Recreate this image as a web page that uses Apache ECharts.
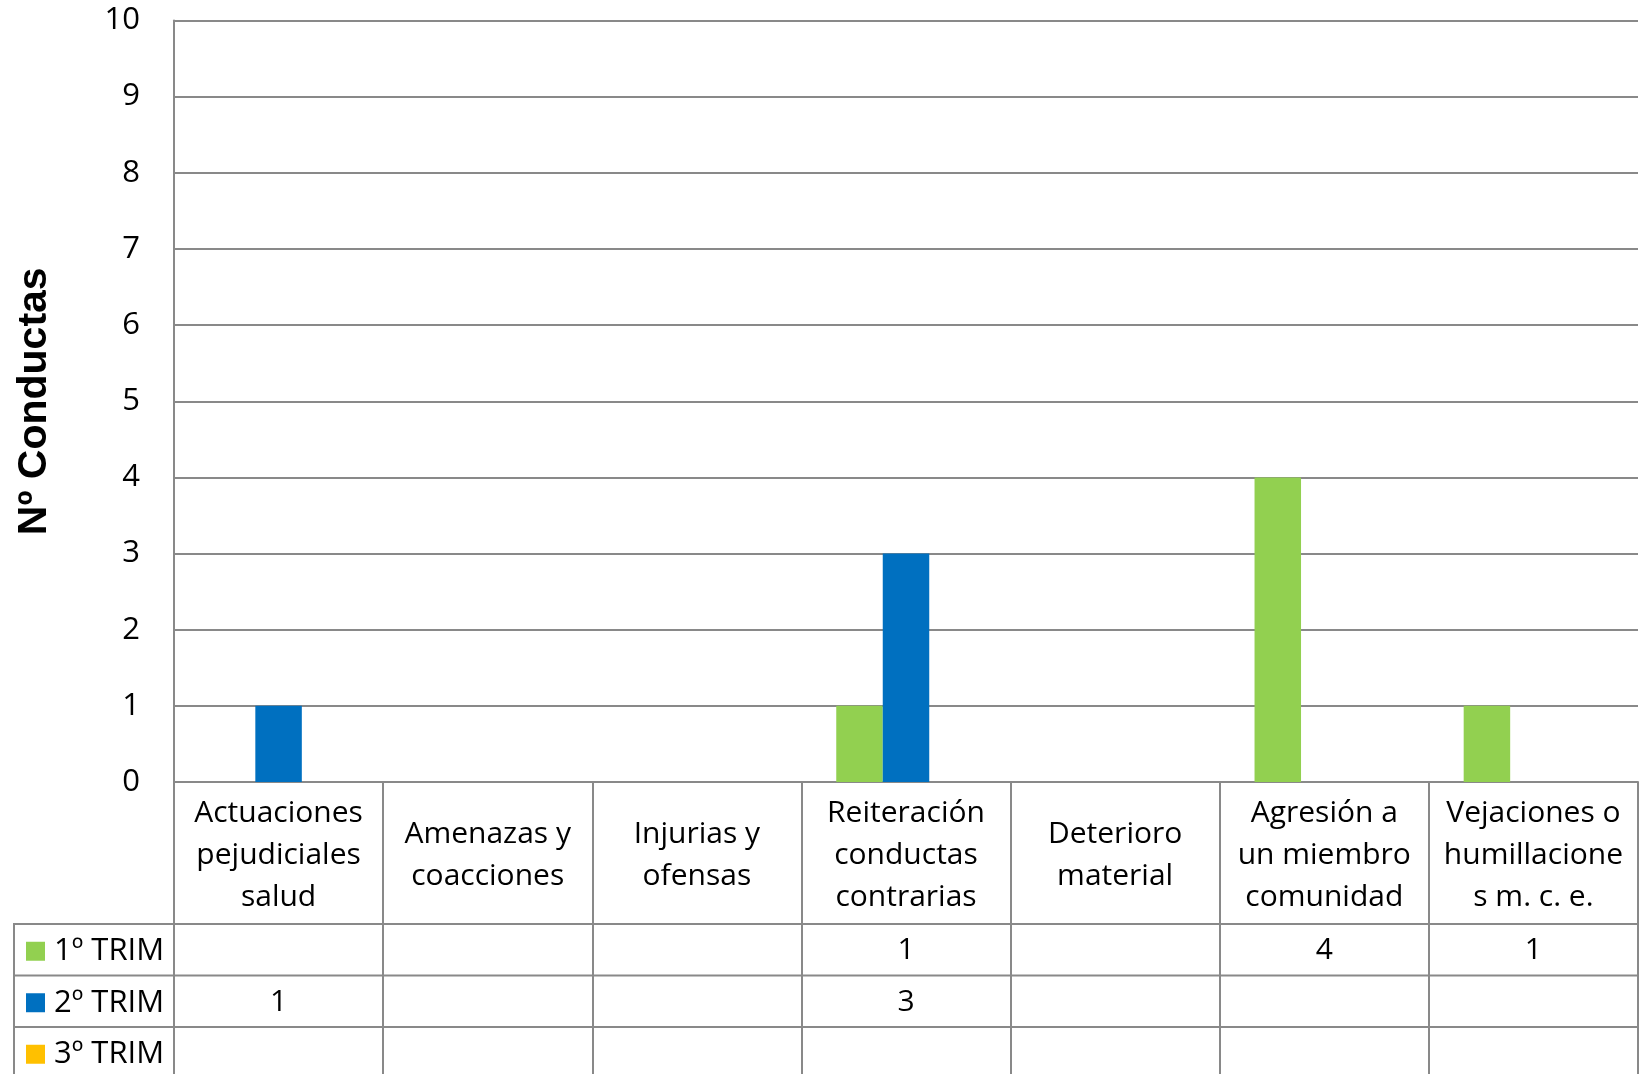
<!DOCTYPE html>
<html>
<head>
<meta charset="utf-8">
<script src="https://cdn.jsdelivr.net/npm/echarts@6/dist/echarts.min.js"></script>
<style>
html,body{margin:0;padding:0;background:#fff;}
#chart{width:1647px;height:1074px;}
</style>
</head>
<body>
<div id="chart"></div>
<script>
// ---- data ----
const categories = [
  "Actuaciones\npejudiciales\nsalud",
  "Amenazas y\ncoacciones",
  "Injurias y\nofensas",
  "Reiteración\nconductas\ncontrarias",
  "Deterioro\nmaterial",
  "Agresión a\nun miembro\ncomunidad",
  "Vejaciones o\nhumillacione\ns m. c. e."
];
const seriesNames = ["1º TRIM", "2º TRIM", "3º TRIM"];
const trim1 = [null, null, null, 1, null, 4, 1];
const trim2 = [1, null, null, 3, null, null, null];
const trim3 = [null, null, null, null, null, null, null];
const yTicks = [0, 1, 2, 3, 4, 5, 6, 7, 8, 9, 10];
const yTitle = "Nº Conductas";

// ---- layout / style ----
const colors = ["#92D050", "#0070C0", "#FFC000"];
const gridColor = "#898989";
const font = "'Open Sans', sans-serif";
const W = 1647, H = 1074;
const gLeft = 174, gRight = 1638, gTop = 20.5, gBottom = 782;
const catRowBottom = 924, rowH = 51.5, legendLeft = 14;

const allSeries = [trim1, trim2, trim3];

const chart = echarts.init(document.getElementById('chart'), null, {renderer: 'canvas'});

const xAxes = [{
  type: 'category',
  data: categories,
  gridIndex: 0,
  position: 'bottom',
  boundaryGap: true,
  axisLine: {show: true, lineStyle: {color: gridColor, width: 2}},
  axisTick: {show: true, interval: 0, alignWithLabel: false, length: H - gBottom, lineStyle: {color: gridColor, width: 2}},
  axisLabel: {
    interval: 0, fontFamily: font, fontSize: 30, color: '#000', lineHeight: 42,
    verticalAlign: 'middle', align: 'center', margin: (gBottom + catRowBottom) / 2 - gBottom + 2
  },
  splitLine: {show: false}
}];
allSeries.forEach((s, k) => {
  const rowCenter = catRowBottom + rowH * k + rowH / 2;
  xAxes.push({
    type: 'category',
    data: categories,
    gridIndex: 0,
    position: 'bottom',
    axisLine: {show: false},
    axisTick: {show: false},
    splitLine: {show: false},
    axisLabel: {
      interval: 0, fontFamily: font, fontSize: 30, color: '#000',
      verticalAlign: 'middle', align: 'center', margin: rowCenter - gBottom + 1,
      formatter: (v, i) => (s[i] == null ? '' : String(s[i]))
    }
  });
});

const graphics = [];
for (let k = 0; k < 3; k++) {
  const y = catRowBottom + rowH * k;
  graphics.push({type: 'line', silent: true, shape: {x1: legendLeft, y1: y, x2: gRight, y2: y},
    style: {stroke: gridColor, lineWidth: 2}});
}
graphics.push({type: 'line', silent: true, shape: {x1: legendLeft, y1: catRowBottom - 1, x2: legendLeft, y2: H},
  style: {stroke: gridColor, lineWidth: 2}});

const legends = seriesNames.map((name, k) => ({
  show: true,
  orient: 'horizontal',
  left: 26,
  top: catRowBottom + rowH * k + (rowH - 30) / 2 + 1,
  padding: 0,
  itemWidth: 19,
  itemHeight: 19,
  icon: 'rect',
  selectedMode: false,
  data: [name],
  textStyle: {fontFamily: font, fontSize: 31, color: '#000', lineHeight: 30, padding: [0, 0, 0, 4]}
}));

const option = {
  backgroundColor: '#fff',
  animation: false,
  color: colors,
  grid: {left: gLeft, right: W - gRight, top: gTop, bottom: H - gBottom, containLabel: false},
  legend: legends,
  xAxis: xAxes,
  yAxis: {
    type: 'value',
    min: yTicks[0],
    max: yTicks[yTicks.length - 1],
    interval: 1,
    name: yTitle,
    nameLocation: 'middle',
    nameGap: 119,
    nameRotate: 90,
    nameTextStyle: {fontFamily: "'Liberation Sans', Arial, sans-serif", fontWeight: 'bold', fontSize: 41, color: '#000'},
    axisLine: {show: true, lineStyle: {color: gridColor, width: 2}},
    axisTick: {show: false},
    axisLabel: {fontFamily: font, fontSize: 31, color: '#000', margin: 34},
    splitLine: {show: true, lineStyle: {color: gridColor, width: 2}}
  },
  series: allSeries.map((s, k) => ({
    name: seriesNames[k],
    type: 'bar',
    data: s,
    xAxisIndex: 0,
    barGap: '0%',
    barCategoryGap: '33.3%',
    itemStyle: {color: colors[k]}
  })),
  graphic: graphics
};
chart.setOption(option);
</script>
</body>
</html>
